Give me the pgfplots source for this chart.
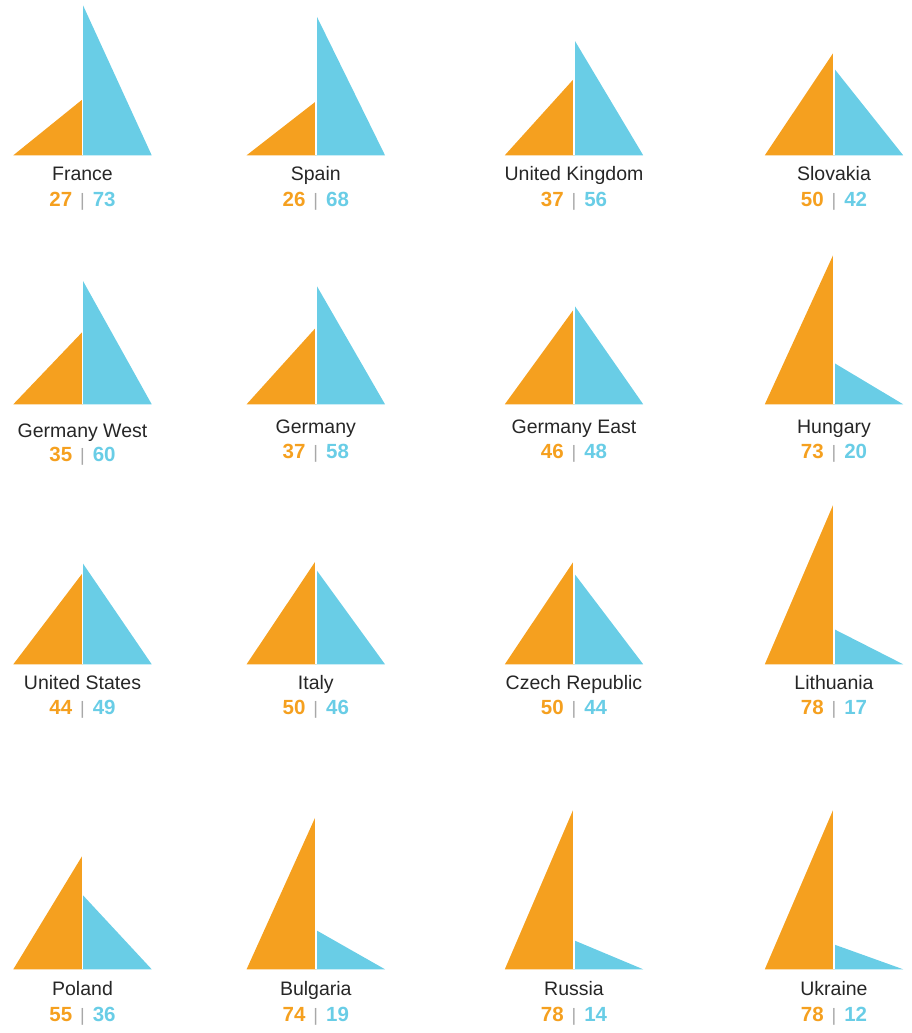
\documentclass[border=0pt]{standalone}
\usepackage{fontspec}
\setmainfont{Liberation Sans}
\usepackage{pgfplots}
\pgfplotsset{compat=1.18}

\definecolor{orng}{HTML}{F5A01F}
\definecolor{blu}{HTML}{69CDE6}
\definecolor{txt}{HTML}{262626}
\definecolor{sep}{HTML}{A8A8A8}

\pgfplotsset{sail/.style={hide axis, clip=false, x=69.2pt, y=2.07pt,
  xmin=-1, xmax=1, ymin=0, ymax=80, anchor=south}}

% #1,#2 centre of the base; #3 name; #4 orange; #5 blue; #6,#7 label offsets
\newcommand{\sail}[7]{%
  \begin{axis}[sail, at={(#1pt,#2pt)}]
    \addplot[draw=none, fill=orng] coordinates {(-1,0) (0,0) (0,#4)} -- cycle;
    \addplot[draw=none, fill=blu] coordinates {(0,0) (1,0) (0,#5)} -- cycle;
    \addplot[white, line width=1.7pt] coordinates {(0,0) (0,80)};
    \node[anchor=base, inner sep=0, text=txt, yshift=-#6pt,
      font=\fontsize{19.5}{22}\selectfont] at (axis cs:0,0) {#3};
    \node[anchor=base, inner sep=0, yshift=-#7pt,
      font=\fontsize{20.5}{23}\selectfont] at (axis cs:0,0)
      {{\bfseries\color{orng}#4}\hspace{8pt}{\fontsize{18}{20}\selectfont\color{sep}|}\hspace{8pt}{\bfseries\color{blu}#5}};
  \end{axis}}

\begin{document}
\begin{tikzpicture}
\useasboundingbox (0,0) rectangle (911pt,1033pt);
% row 1
\sail{82.5}{877.7}{France}{27}{73}{25.5}{51.3}
\sail{315.8}{877.7}{Spain}{26}{68}{25.5}{51.3}
\sail{574}{877.7}{United Kingdom}{37}{56}{25.5}{51.3}
\sail{834}{877.7}{Slovakia}{50}{42}{25.5}{51.3}
% row 2
\sail{82.5}{628.7}{Germany West}{35}{60}{33}{57.5}
\sail{315.8}{628.7}{Germany}{37}{58}{29}{54}
\sail{574}{628.7}{Germany East}{46}{48}{29}{54}
\sail{834}{628.7}{Hungary}{73}{20}{29}{54}
% row 3
\sail{82.5}{368.7}{United States}{44}{49}{25.7}{50.7}
\sail{315.8}{368.7}{Italy}{50}{46}{25.7}{50.7}
\sail{574}{368.7}{Czech Republic}{50}{44}{25.7}{50.7}
\sail{834}{368.7}{Lithuania}{78}{17}{25.7}{50.7}
% row 4
\sail{82.5}{63.7}{Poland}{55}{36}{25.7}{51.7}
\sail{315.8}{63.7}{Bulgaria}{74}{19}{25.7}{51.7}
\sail{574}{63.7}{Russia}{78}{14}{25.7}{51.7}
\sail{834}{63.7}{Ukraine}{78}{12}{25.7}{51.7}
\end{tikzpicture}
\end{document}
